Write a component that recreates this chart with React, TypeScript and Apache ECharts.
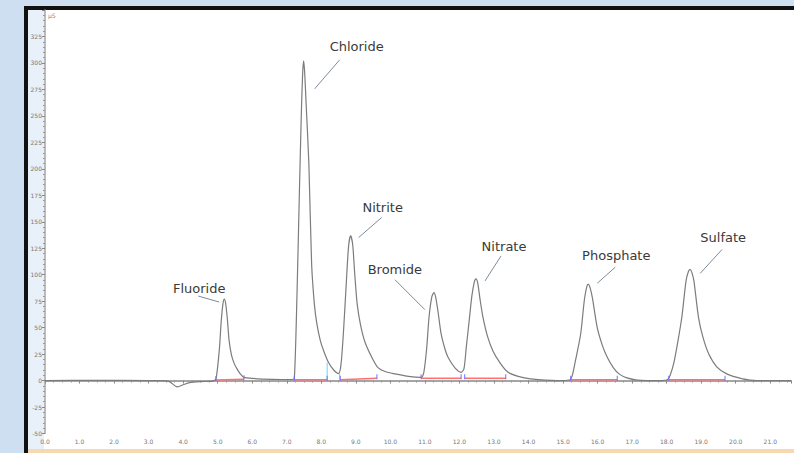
import React, { useEffect, useRef } from "react";
import * as echarts from "echarts";

// ---- chromatogram trace (time in min, signal) ----
const traceTime = [
  0, 1.5, 3.0, 3.3, 3.6, 3.83, 4.0, 4.18, 4.5, 4.85,
  4.95, 5.05, 5.1, 5.15, 5.19, 5.23, 5.28, 5.33, 5.4, 5.48, 5.56, 5.66, 5.76, 6.0, 6.6, 7.15,
  7.22, 7.3, 7.36, 7.42, 7.46, 7.49, 7.52, 7.56, 7.64, 7.72, 7.8, 7.87, 7.97, 8.07, 8.21, 8.36, 8.5,
  8.57, 8.64, 8.72, 8.79, 8.85, 8.91, 8.97, 9.04, 9.14, 9.28, 9.51, 9.65, 9.85, 10.09, 10.52, 10.89,
  10.97, 11.05, 11.12, 11.2, 11.26, 11.31, 11.38, 11.47, 11.57, 11.67, 11.87, 12.05,
  12.13, 12.2, 12.28, 12.36, 12.43, 12.48, 12.53, 12.6, 12.68, 12.82, 12.97, 13.17, 13.4, 13.7, 14.06, 14.84,
  15.18, 15.26, 15.36, 15.51, 15.62, 15.69, 15.73, 15.78, 15.85, 15.99, 16.14, 16.28, 16.46, 16.62, 16.85, 17.15, 17.87,
  18.03, 18.1, 18.21, 18.33, 18.44, 18.56, 18.63, 18.68, 18.73, 18.79, 18.92, 19.05, 19.22, 19.45, 19.74, 20.17, 20.61, 21.6,
];
const traceSignal = [
  0, 0.3, 0, 0, -1, -6, -4, -2, -1, -0.5,
  1.5, 30, 55, 72, 77, 73, 58, 38, 24, 16, 11, 6, 3, 2, 1.2, 1,
  2, 86, 170, 250, 290, 302, 290, 262, 205, 110, 72, 54, 38, 28, 17, 10, 6.6,
  15, 45, 90, 127, 137, 128, 100, 72, 52, 35, 19, 12, 8.5, 6.5, 4, 3,
  8, 30, 60, 79, 83, 79, 65, 44, 31, 22, 12, 7.8,
  11, 32, 56, 80, 93, 96, 92, 76, 60, 41, 28, 17, 8, 4, 1.6, 0,
  0.5, 4, 19, 44, 77, 89, 91, 88, 78, 50, 33, 22, 12, 6.3, 2.5, 0.5, 0,
  1, 5, 17, 38, 60, 94, 103, 105, 102, 94, 60, 41, 25, 13, 6.3, 1.9, 0, 0,
];

// ---- peaks ----
const peakNames = ["Fluoride", "Chloride", "Nitrite", "Bromide", "Nitrate", "Phosphate", "Sulfate"];
const peakApexTime = [5.19, 7.49, 8.85, 11.26, 12.48, 15.73, 18.68];
const peakApexSignal = [77, 302, 137, 83, 96, 91, 105];

// ---- integration baselines (start / end) ----
const integStartTime = [4.95, 7.22, 8.55, 10.89, 12.15, 15.22, 18.06];
const integStartSignal = [0.5, 0.7, 0.7, 2.2, 2.2, 0.7, 0.7];
const integEndTime = [5.76, 8.17, 9.61, 12.05, 13.34, 16.57, 19.69];
const integEndSignal = [1.2, 0.7, 2.2, 2.2, 2.2, 0.7, 0.7];

// ---- peak separation drop lines ----
const dropTime = [8.17, 8.53];
const dropTop = [17, 6.6];
const dropBottom = [0.7, 0.7];

// ---- axes ----
const xMin = 0;
const xMax = 21.6;
const xInterval = 1;
const yMin = -50;
const yMax = 350;
const yInterval = 25;
const yUnit = "µS";

// label layout offsets relative to peak apex, in pixels (style only)
const labelLayout = [
  { dx: -25, dy: -11, l: [-26, -3, -5, 3] },
  { dx: 53, dy: -14, l: [36, -1, 11, 28] },
  { dx: 32, dy: -28, l: [31, -18, 8, 2] },
  { dx: -39, dy: -23, l: [-39, -13, -9, 17] },
  { dx: 28, dy: -32, l: [25, -23, 9, 2] },
  { dx: 28, dy: -29, l: [27, -17, 9, -1] },
  { dx: 33, dy: -32, l: [32, -20, 10, 4] },
];

export default function App() {
  const ref = useRef<HTMLDivElement>(null);

  useEffect(() => {
    if (!ref.current) return;
    const chart = echarts.init(ref.current, undefined, { renderer: "svg" });

    const trace = traceTime.map((t, i) => [t, traceSignal[i]]);
    const integ: any[] = [];
    const ticks: any[] = [];
    integStartTime.forEach((t, i) => {
      integ.push([t, integStartSignal[i]]);
      integ.push([integEndTime[i], integEndSignal[i]]);
      integ.push([null, null]);
      ticks.push([t, integStartSignal[i] + 1.5]);
      ticks.push([integEndTime[i], integEndSignal[i] + 1.5]);
    });
    const drops: any[] = [];
    dropTime.forEach((t, i) => {
      drops.push([t, dropBottom[i]]);
      drops.push([t, dropTop[i]]);
      drops.push([null, null]);
    });

    chart.setOption({
      animation: false,
      backgroundColor: "transparent",
      grid: { left: 45, right: 0, top: 10, bottom: 19.5 },
      xAxis: {
        type: "value",
        min: xMin,
        max: xMax,
        interval: xInterval,
        axisLine: { show: true, lineStyle: { color: "#a5a5a5", width: 2 } },
        axisTick: { show: true, length: 3, lineStyle: { color: "#888" } },
        minorTick: { show: true, splitNumber: 4, length: 2, lineStyle: { color: "#999" } },
        splitLine: { show: false },
        axisLabel: {
          fontSize: 6,
          color: "#777",
          margin: 5,
          fontFamily: "DejaVu Sans",
          formatter: (v: number) => (Math.abs(v - Math.round(v)) > 1e-6 ? "" : v.toFixed(1)),
        },
      },
      yAxis: {
        type: "value",
        min: yMin,
        max: yMax,
        interval: yInterval,
        axisLine: { show: true, lineStyle: { color: "#a5a5a5", width: 1.5 } },
        axisTick: { show: true, length: 3, lineStyle: { color: "#888" } },
        minorTick: { show: true, splitNumber: 5, length: 2, lineStyle: { color: "#999" } },
        splitLine: { show: false },
        axisLabel: {
          fontSize: 6,
          color: "#777",
          margin: 3,
          fontFamily: "DejaVu Sans",
          showMaxLabel: false,
        },
      },
      series: [
        {
          type: "line",
          data: trace,
          showSymbol: false,
          symbol: "none",
          smooth: 0.25,
          lineStyle: { color: "#7c7c7c", width: 1.2 },
          z: 3,
        },
        {
          type: "line",
          data: integ,
          showSymbol: false,
          symbol: "none",
          connectNulls: false,
          lineStyle: { color: "#ff7070", width: 1.5 },
          z: 2,
        },
        {
          type: "line",
          data: drops,
          showSymbol: false,
          symbol: "none",
          connectNulls: false,
          lineStyle: { color: "#55e0f0", width: 1 },
          z: 2,
        },
        {
          type: "scatter",
          data: ticks,
          symbol: "rect",
          symbolSize: [1.2, 5],
          itemStyle: { color: "#6a6aff" },
          z: 4,
        },
      ],
    });

    const graphics: any[] = [
      {
        type: "text",
        left: 48,
        top: 12,
        style: { text: yUnit, fontSize: 6, fill: "#888", fontFamily: "DejaVu Sans" },
      },
    ];
    peakNames.forEach((name, i) => {
      const p = chart.convertToPixel({ gridIndex: 0 }, [peakApexTime[i], peakApexSignal[i]]) as number[];
      const L = labelLayout[i];
      graphics.push({
        type: "text",
        x: p[0] + L.dx,
        y: p[1] + L.dy,
        style: {
          text: name,
          fontSize: 13,
          fontFamily: "DejaVu Sans",
          fill: "#3a3a3a",
          align: "center",
          verticalAlign: "middle",
        },
        z: 10,
      });
      graphics.push({
        type: "line",
        shape: { x1: p[0] + L.l[0], y1: p[1] + L.l[1], x2: p[0] + L.l[2], y2: p[1] + L.l[3] },
        style: { stroke: "#7d8c9c", lineWidth: 1 },
        z: 10,
      });
    });
    chart.setOption({ graphic: graphics });

    return () => chart.dispose();
  }, []);

  const abs = (l: number, t: number, w: number, h: number, bg: string): React.CSSProperties => ({
    position: "absolute",
    left: l,
    top: t,
    width: w,
    height: h,
    background: bg,
  });

  return (
    <div style={{ position: "fixed", left: 0, top: 0, width: 794, height: 453, background: "#cddff0", overflow: "hidden" }}>
      <div style={abs(28, 10, 766, 443, "#ffffff")} />
      <div style={abs(28, 10, 16, 440, "#e8f0fa")} />
      <div style={abs(28, 449, 766, 4, "#f6d8b2")} />
      <div style={abs(24, 6, 770, 4, "#111111")} />
      <div style={abs(24, 6, 4, 447, "#111111")} />
      <div ref={ref} style={{ position: "absolute", left: 0, top: 0, width: 794, height: 453 }} />
    </div>
  );
}
